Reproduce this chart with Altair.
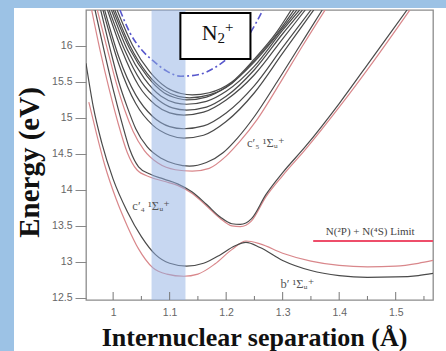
import altair as alt
import pandas as pd

# ---------------- data ----------------
X_DOMAIN = [0.952, 1.566]
Y_DOMAIN = [12.47, 16.5]
X_LABEL_VALUES = [1.0, 1.1, 1.2, 1.3, 1.4, 1.5]
X_MINOR_VALUES = [1.05, 1.15, 1.25, 1.35, 1.45, 1.55]
Y_LABEL_VALUES = [12.5, 13.0, 13.5, 14.0, 14.5, 15.0, 15.5, 16.0]
BAND_R = [1.068, 1.128]
LIMIT_R = [1.354, 1.566]
LIMIT_E = 13.29
BOX_R = [1.119, 1.243]
BOX_E = [15.82, 16.46]

B_BLACK = [(0.952, 15.76), (0.965, 15.15), (0.98, 14.65), (1.0, 14.15), (1.025, 13.7),
           (1.05, 13.35), (1.075, 13.1), (1.10, 12.98), (1.13, 12.94), (1.16, 12.98),
           (1.19, 13.1), (1.215, 13.22), (1.235, 13.27), (1.26, 13.2), (1.30, 13.02),
           (1.35, 12.88), (1.40, 12.81), (1.45, 12.785), (1.50, 12.79), (1.54, 12.81),
           (1.566, 12.84)]
B_RED = [(0.957, 15.22), (0.97, 14.8), (0.985, 14.35), (1.005, 13.88), (1.025, 13.5),
         (1.045, 13.18), (1.07, 12.92), (1.095, 12.83), (1.125, 12.80), (1.15, 12.83),
         (1.18, 12.97), (1.21, 13.17), (1.235, 13.29), (1.26, 13.25), (1.30, 13.12),
         (1.35, 13.01), (1.40, 12.95), (1.45, 12.93), (1.50, 12.94), (1.54, 12.98),
         (1.566, 13.02)]
C4_BLACK = [(0.968, 16.5), (0.985, 15.9), (1.0, 15.4), (1.015, 14.95), (1.03, 14.55),
            (1.045, 14.32), (1.065, 14.22), (1.09, 14.15), (1.115, 14.08), (1.14, 13.97),
            (1.165, 13.8), (1.19, 13.62), (1.21, 13.53), (1.225, 13.52), (1.245, 13.6),
            (1.27, 13.93), (1.30, 14.24), (1.34, 14.6), (1.40, 15.2), (1.46, 15.85),
            (1.52, 16.5)]
C4_RED = [(0.962, 16.5), (0.978, 15.9), (0.993, 15.4), (1.008, 14.95), (1.025, 14.52),
          (1.042, 14.28), (1.065, 14.18), (1.09, 14.12), (1.115, 14.06), (1.14, 13.95),
          (1.165, 13.78), (1.19, 13.6), (1.21, 13.5), (1.225, 13.49), (1.245, 13.57),
          (1.27, 13.9), (1.30, 14.2), (1.34, 14.56), (1.40, 15.15), (1.46, 15.78),
          (1.525, 16.5)]
C5_BLACK = [(0.978, 16.5), (0.995, 15.95), (1.01, 15.5), (1.025, 15.15), (1.04, 14.85),
            (1.06, 14.6), (1.085, 14.44), (1.11, 14.36), (1.135, 14.33), (1.165, 14.38),
            (1.195, 14.52), (1.22, 14.72), (1.25, 15.02), (1.29, 15.5), (1.33, 16.0),
            (1.37, 16.5)]
C5_RED = [(0.972, 16.5), (0.99, 15.95), (1.005, 15.5), (1.02, 15.12), (1.035, 14.82),
          (1.055, 14.55), (1.08, 14.37), (1.11, 14.28), (1.14, 14.26), (1.17, 14.3),
          (1.20, 14.47), (1.225, 14.68), (1.255, 14.98), (1.295, 15.48), (1.335, 16.0),
          (1.375, 16.5)]
K1 = [(0.982, 16.5), (1.01, 15.75), (1.04, 15.2), (1.07, 14.9), (1.10, 14.76), (1.125, 14.72),
      (1.16, 14.76), (1.20, 14.95), (1.25, 15.35), (1.30, 15.9), (1.355, 16.5)]
K2 = [(0.985, 16.5), (1.01, 15.85), (1.04, 15.32), (1.07, 15.02), (1.10, 14.88), (1.125, 14.85),
      (1.16, 14.89), (1.20, 15.07), (1.25, 15.45), (1.30, 15.98), (1.35, 16.5)]
K3 = [(0.99, 16.5), (1.015, 15.95), (1.045, 15.45), (1.075, 15.18), (1.10, 15.07), (1.125, 15.04),
      (1.16, 15.08), (1.20, 15.25), (1.25, 15.6), (1.30, 16.1), (1.34, 16.5)]
K4 = [(0.993, 16.5), (1.02, 15.95), (1.05, 15.5), (1.08, 15.25), (1.105, 15.14), (1.13, 15.11),
      (1.165, 15.15), (1.20, 15.3), (1.25, 15.67), (1.30, 16.17), (1.335, 16.5)]
K5 = [(0.997, 16.5), (1.025, 15.95), (1.055, 15.55), (1.085, 15.3), (1.11, 15.21), (1.13, 15.19),
      (1.165, 15.23), (1.20, 15.37), (1.25, 15.72), (1.30, 16.22), (1.33, 16.5)]
K6 = [(1.0, 16.5), (1.03, 15.95), (1.06, 15.58), (1.09, 15.35), (1.115, 15.27), (1.13, 15.25),
      (1.165, 15.29), (1.20, 15.43), (1.25, 15.78), (1.29, 16.15), (1.325, 16.5)]
K7 = [(1.003, 16.5), (1.03, 16.0), (1.06, 15.62), (1.09, 15.39), (1.115, 15.3), (1.135, 15.28),
      (1.17, 15.32), (1.21, 15.48), (1.25, 15.8), (1.29, 16.17), (1.32, 16.5)]
K8 = [(1.007, 16.5), (1.035, 16.0), (1.065, 15.64), (1.095, 15.42), (1.12, 15.34), (1.14, 15.32),
      (1.17, 15.35), (1.21, 15.5), (1.25, 15.82), (1.29, 16.2), (1.315, 16.5)]
ION = [(1.012, 16.5), (1.03, 16.18), (1.05, 15.95), (1.07, 15.8), (1.095, 15.65), (1.12, 15.58),
       (1.15, 15.6), (1.18, 15.7), (1.21, 15.88), (1.24, 16.15), (1.265, 16.5)]

CURVES = {
    "b_red": ("red", B_RED), "c4_red": ("red", C4_RED), "c5_red": ("red", C5_RED),
    "b_black": ("black", B_BLACK), "c4_black": ("black", C4_BLACK), "c5_black": ("black", C5_BLACK),
    "k1": ("black", K1), "k2": ("black", K2), "k3": ("black", K3), "k4": ("black", K4),
    "k5": ("black", K5), "k6": ("black", K6), "k7": ("black", K7), "k8": ("black", K8),
}

rows = []
for name, (kind, pts) in CURVES.items():
    for i, (r, e) in enumerate(pts):
        rows.append({"curve": name, "kind": kind, "idx": i, "r": r, "E": e})
curves_df = pd.DataFrame(rows)
ion_df = pd.DataFrame([{"idx": i, "r": r, "E": e} for i, (r, e) in enumerate(ION)])

SERIF = "Liberation Serif, DejaVu Serif, serif"
SANS = "Liberation Sans, Arial, sans-serif"

xscale = alt.Scale(domain=X_DOMAIN, nice=False, zero=False)
yscale = alt.Scale(domain=Y_DOMAIN, nice=False, zero=False)

x_axis = alt.Axis(values=X_LABEL_VALUES, format="~g", ticks=False, domain=False, grid=False,
                  labelPadding=7, labelFontSize=10.5, labelColor="#666", labelFont=SANS,
                  title="Internuclear separation (Å)", titleFont=SERIF, titleFontSize=26,
                  titleFontWeight="bold", titleColor="#111", titleX=168, titleY=45,
                  titleBaseline="alphabetic", titleAlign="center", zindex=1)
y_axis = alt.Axis(values=Y_LABEL_VALUES, format="~g", tickSize=11, tickColor="#888",
                  domain=False, grid=False, labelPadding=3, labelFontSize=10.5,
                  labelColor="#666", labelFont=SANS, title="Energy (eV)", titleFont=SERIF,
                  titleFontSize=29, titleFontWeight="bold", titleColor="#111",
                  titleX=-48, titleY=152, titleBaseline="alphabetic", titleAlign="center",
                  zindex=1)


def X(field):
    return alt.X(field, scale=xscale, axis=x_axis)


def Y(field):
    return alt.Y(field, scale=yscale, axis=y_axis)


one = pd.DataFrame({"a": [0]})
# decoration: light blue frame strips
strip_left = alt.Chart(one).mark_rect(color="#9cc2e5").encode(
    x=alt.value(-86), x2=alt.value(-72), y=alt.value(-10), y2=alt.value(341))
strip_top = alt.Chart(one).mark_rect(color="#9cc2e5").encode(
    x=alt.value(-86), x2=alt.value(360), y=alt.value(-10), y2=alt.value(-2))

lines = alt.Chart(curves_df).mark_line(clip=True, interpolate="monotone", strokeWidth=1.2).encode(
    x=X("r:Q"),
    y=Y("E:Q"),
    color=alt.Color("kind:N", scale=alt.Scale(domain=["black", "red"], range=["#4a4a4a", "#d9878b"]),
                    legend=None),
    detail="curve:N",
    order="idx:Q",
)

ion = alt.Chart(ion_df).mark_line(clip=True, interpolate="monotone", strokeWidth=1.6,
                                  strokeDash=[7, 3, 2, 3], color="#5757cc").encode(
    x=X("r:Q"), y=Y("E:Q"), order="idx:Q")

band = alt.Chart(pd.DataFrame({"r": [BAND_R[0]], "r2": [BAND_R[1]]})).mark_rect(
    color="#8fb0e3", opacity=0.5).encode(
    x=X("r:Q"), x2="r2:Q", y=alt.value(0), y2=alt.value(290))

limit = alt.Chart(pd.DataFrame({"r": [LIMIT_R[0]], "r2": [LIMIT_R[1]], "E": [LIMIT_E]})).mark_rule(
    color="#ee4d6a", strokeWidth=2).encode(
    x=X("r:Q"), x2="r2:Q", y=Y("E:Q"))

box = alt.Chart(pd.DataFrame({"r": [BOX_R[0]], "r2": [BOX_R[1]], "E": [BOX_E[0]], "E2": [BOX_E[1]]})).mark_rect(
    fill="white", stroke="black", strokeWidth=2).encode(
    x=X("r:Q"), x2="r2:Q", y=Y("E:Q"), y2="E2:Q")


def text_layer(items, size, color, align="left"):
    df = pd.DataFrame(items, columns=["t", "r", "E"])
    return alt.Chart(df).mark_text(align=align, baseline="alphabetic", font=SERIF,
                                   fontSize=size, color=color).encode(
        x=X("r:Q"), y=Y("E:Q"), text="t:N")


box_n = text_layer([("N", 1.157, 16.084)], 22, "#111")
box_sub = text_layer([("2", 1.1846, 16.038)], 15, "#111")
box_sup = text_layer([("+", 1.198, 16.20)], 15, "#111")
limit_label = text_layer([("N(²P) + N(⁴S) Limit", 1.455, 13.38)], 11, "#444", align="center")
state_labels = text_layer([("c′₅ ¹Σᵤ⁺", 1.237, 14.60), ("c′₄ ¹Σᵤ⁺", 1.034, 13.72),
                           ("b′ ¹Σᵤ⁺", 1.296, 12.63)], 12.5, "#555")

ticks_major = alt.Chart(pd.DataFrame({"r": X_LABEL_VALUES})).mark_rule(color="#777", strokeWidth=1).encode(
    x=X("r:Q"), y=alt.value(290), y2=alt.value(282))
ticks_minor = alt.Chart(pd.DataFrame({"r": X_MINOR_VALUES})).mark_rule(color="#777", strokeWidth=1).encode(
    x=X("r:Q"), y=alt.value(290), y2=alt.value(286))

chart = alt.layer(
    lines, strip_left, strip_top, ion, band, limit, box, box_n, box_sub, box_sup,
    limit_label, state_labels, ticks_major, ticks_minor
).properties(
    width=347, height=290,
    padding={"left": 86, "top": 10, "right": 13, "bottom": 51},
    autosize=alt.AutoSizeParams(type="none"),
    background="white",
).configure_view(stroke="#8c8c8c", strokeWidth=1.3)

chart.save("out.html", embed_options={"renderer": "svg", "actions": False})
